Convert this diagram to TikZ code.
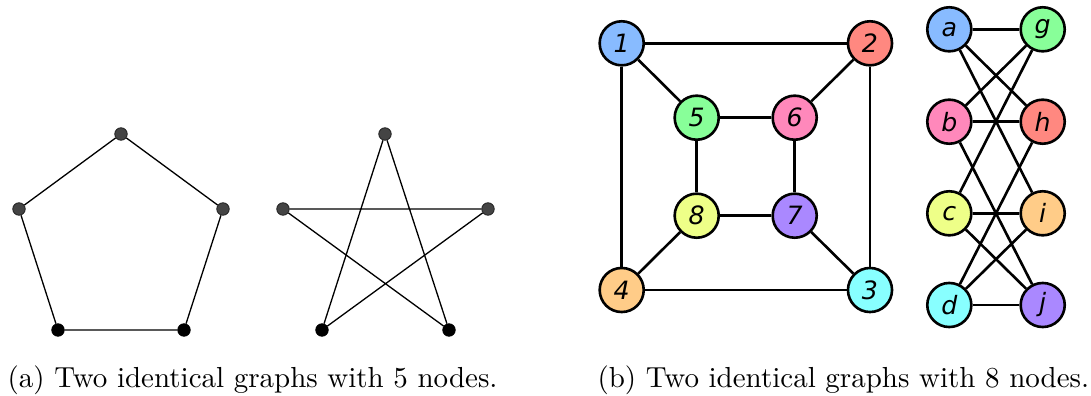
\documentclass[tikz,border=0pt]{standalone}
\usepackage{fontspec}
\newfontfamily\labfam{DejaVu Sans}
\definecolor{dotgray}{HTML}{444444}
\definecolor{cblue}{HTML}{88BBFF}
\definecolor{cred}{HTML}{FF8880}
\definecolor{ccyan}{HTML}{88FFFF}
\definecolor{corange}{HTML}{FFCC88}
\definecolor{cgreen}{HTML}{88FF99}
\definecolor{cpink}{HTML}{FF88BB}
\definecolor{cpurple}{HTML}{AA88FF}
\definecolor{cyellow}{HTML}{EEFF88}
\begin{document}
\begin{tikzpicture}[x=0.345pt,y=-0.345pt,
  dot/.style={circle,inner sep=0pt,minimum size=4.3pt,fill=dotgray,draw=black!85,line width=0.3pt},
  bdot/.style={dot,fill=black,draw=black},
  thinedge/.style={line width=0.45pt},
  vtx/.style={circle,draw,line width=0.9pt,inner sep=0pt,minimum size=15.2pt,
    font={\labfam\itshape\fontsize{8.7}{10}\selectfont}},
  edge/.style={line width=0.9pt},
  captext/.style={anchor=base west,inner sep=0pt,font={\fontsize{10}{12}\selectfont}}]
\useasboundingbox (0,0) rectangle (1091,396);
% pentagon
\node[dot]  (pt) at (121,134) {};
\node[dot]  (pl) at (19,209) {};
\node[dot]  (pr) at (223,209) {};
\node[bdot] (pbl) at (58,330) {};
\node[bdot] (pbr) at (184,330) {};
\draw[thinedge] (pt) -- (pl) -- (pbl) -- (pbr) -- (pr) -- (pt);
% star
\node[dot]  (st) at (385,134) {};
\node[dot]  (sl) at (283,209) {};
\node[dot]  (sr) at (488,209) {};
\node[bdot] (sbl) at (322,330) {};
\node[bdot] (sbr) at (449,330) {};
\draw[thinedge] (sl) -- (sr) -- (sbl) -- (st) -- (sbr) -- (sl);
% cube graph
\node[vtx,fill=cblue]   (n1) at (621.7,43.3) {1};
\node[vtx,fill=cred]    (n2) at (870,43.3) {2};
\node[vtx,fill=ccyan]   (n3) at (870,290) {3};
\node[vtx,fill=corange] (n4) at (621.7,290) {4};
\node[vtx,fill=cgreen]  (n5) at (696.7,117.7) {5};
\node[vtx,fill=cpink]   (n6) at (794.7,117.7) {6};
\node[vtx,fill=cpurple] (n7) at (794.7,215.7) {7};
\node[vtx,fill=cyellow] (n8) at (696.7,215.7) {8};
\draw[edge] (n1) -- (n2); \draw[edge] (n1) -- (n5); \draw[edge] (n1) -- (n4);
\draw[edge] (n2) -- (n6); \draw[edge] (n2) -- (n3);
\draw[edge] (n5) -- (n6); \draw[edge] (n5) -- (n8); \draw[edge] (n6) -- (n7);
\draw[edge] (n8) -- (n7); \draw[edge] (n8) -- (n4); \draw[edge] (n7) -- (n3);
\draw[edge] (n4) -- (n3);
% bipartite graph
\node[vtx,fill=cblue]   (a) at (949.3,29.3) {a};
\node[vtx,fill=cgreen]  (g) at (1042.7,29.3) {g};
\node[vtx,fill=cpink]   (b) at (949.3,121.7) {b};
\node[vtx,fill=cred]    (h) at (1042.7,121.7) {h};
\node[vtx,fill=cyellow] (c) at (949.3,213.3) {c};
\node[vtx,fill=corange] (i) at (1042.7,213.3) {i};
\node[vtx,fill=ccyan]   (d) at (949.3,305) {d};
\node[vtx,fill=cpurple] (j) at (1042.7,305) {j};
\draw[edge] (a) -- (g); \draw[edge] (a) -- (h); \draw[edge] (a) -- (i);
\draw[edge] (b) -- (g); \draw[edge] (b) -- (h); \draw[edge] (b) -- (j);
\draw[edge] (c) -- (g); \draw[edge] (c) -- (i); \draw[edge] (c) -- (j);
\draw[edge] (d) -- (h); \draw[edge] (d) -- (i); \draw[edge] (d) -- (j);
% captions
\node[captext] (capa) at (7,387) {(a) Two identical graphs with 5 nodes.};
\node[captext] (capb) at (597,387) {(b) Two identical graphs with 8 nodes.};
\end{tikzpicture}
\end{document}
